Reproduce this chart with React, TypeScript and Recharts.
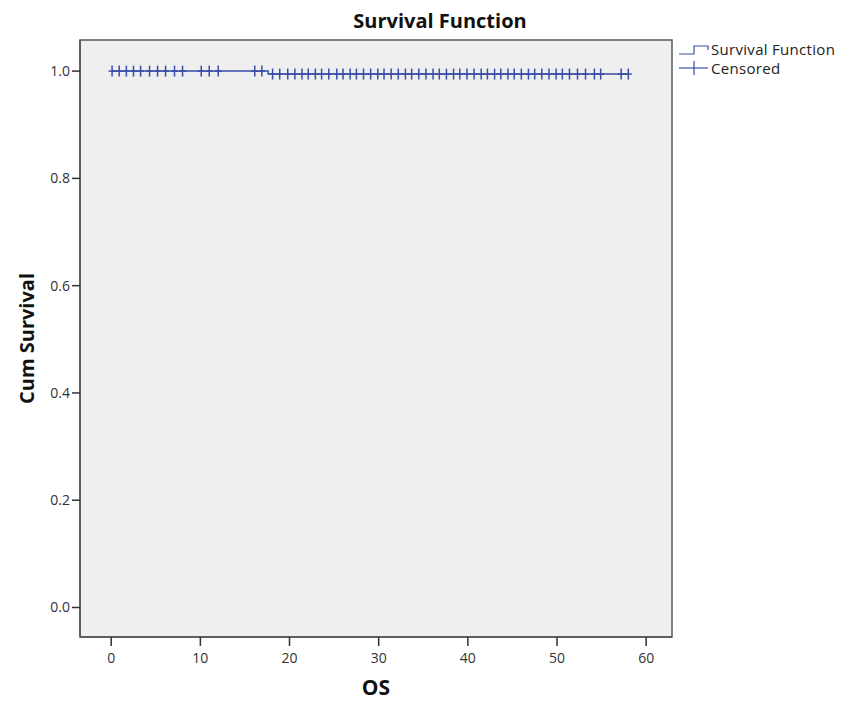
import React from 'react';
import {
  ComposedChart,
  Line,
  Scatter,
  XAxis,
  YAxis,
  CartesianGrid,
  ReferenceArea,
  Label,
} from 'recharts';

// Survival step curve (time, cumulative survival)
const survTimes = [0, 17.6, 58.0];
const survValues = [1.0, 0.9945, 0.9945];

// Censored observation times
const censoredTimes = [
  0.1, 0.9, 1.7, 2.5, 3.3, 4.3, 5.2, 6.1, 7.1, 8.0,
  10.1, 11.0, 12.0,
  16.1, 16.9,
  18.1, 18.9, 19.8, 20.6, 21.4, 22.1, 22.9, 23.6, 24.4, 25.3, 26.0, 26.8, 27.5,
  28.3, 29.1, 29.9, 30.6, 31.4, 32.2, 33.0, 33.7, 34.5, 35.3, 36.1, 36.8, 37.6,
  38.4, 39.1, 39.9, 40.7, 41.5, 42.2, 43.0, 43.7, 44.5, 45.2, 46.0, 46.8, 47.5,
  48.3, 49.1, 49.9, 50.6, 51.4, 52.3, 53.2, 54.2, 54.9, 57.2, 58.0,
];

const xTicks = [0, 10, 20, 30, 40, 50, 60];
const yTicks = [0, 0.2, 0.4, 0.6, 0.8, 1.0];

const X_DOMAIN: [number, number] = [-3.5, 62.9];
const Y_DOMAIN: [number, number] = [-0.055, 1.058];

const BLUE = '#3a4ea6';
const FONT = '"Open Sans", "Liberation Sans", sans-serif';

const survData = survTimes.map((t, i) => ({ t, s: survValues[i] }));

const survivalAt = (t: number) => {
  let v = survValues[0];
  for (let i = 0; i < survTimes.length; i++) {
    if (t >= survTimes[i]) v = survValues[i];
  }
  return v;
};

const censData = censoredTimes.map((t) => ({ t, s: survivalAt(t) }));

const Cross = (props: any) => {
  const { cx, cy } = props;
  if (cx == null || cy == null) return null;
  return (
    <g>
      <line x1={cx} x2={cx} y1={cy - 5.5} y2={cy + 5.5} stroke={BLUE} strokeWidth={1.5} />
      <line x1={cx - 3.5} x2={cx + 3.5} y1={cy} y2={cy} stroke={BLUE} strokeWidth={1.5} />
    </g>
  );
};

export default function App() {
  return (
    <div style={{ position: 'absolute', left: 0, top: 0, width: 858, height: 701, background: '#fff' }}>
      <ComposedChart
        width={858}
        height={701}
        margin={{ top: 40, right: 186, bottom: 0, left: 20 }}
      >
        <CartesianGrid fill="#efefef" horizontal={false} vertical={false} />
        <XAxis
          dataKey="t"
          type="number"
          domain={X_DOMAIN}
          ticks={xTicks}
          allowDataOverflow
          height={64}
          tickSize={9}
          tickMargin={7}
          tickLine={{ stroke: '#333', strokeWidth: 1.5 }}
          axisLine={{ stroke: '#555', strokeWidth: 1.5 }}
          tick={{ fill: '#333', fontSize: 14, fontFamily: FONT }}
        >
          <Label
            value="OS"
            position="insideBottom"
            offset={6}
            style={{ fontSize: 21, fontWeight: 700, fill: '#111', fontFamily: FONT }}
          />
        </XAxis>
        <YAxis
          dataKey="s"
          type="number"
          domain={Y_DOMAIN}
          ticks={yTicks}
          allowDataOverflow
          width={60}
          tickSize={8}
          tickFormatter={(v: number) => v.toFixed(1)}
          tickLine={{ stroke: '#333', strokeWidth: 1.5 }}
          axisLine={{ stroke: '#555', strokeWidth: 1.5 }}
          tick={{ fill: '#333', fontSize: 14, fontFamily: FONT }}
        >
          <Label
            value="Cum Survival"
            angle={-90}
            position="insideLeft"
            offset={7}
            style={{ fontSize: 20, fontWeight: 700, fill: '#111', fontFamily: FONT, textAnchor: 'middle' }}
          />
        </YAxis>
        <ReferenceArea
          x1={X_DOMAIN[0]}
          x2={X_DOMAIN[1]}
          y1={Y_DOMAIN[0]}
          y2={Y_DOMAIN[1]}
          fill="none"
          fillOpacity={0}
          stroke="#5a5a5a"
          strokeWidth={1.5}
          ifOverflow="visible"
        />
        <Line
          data={survData}
          dataKey="s"
          type="stepAfter"
          stroke={BLUE}
          strokeWidth={1.5}
          dot={false}
          activeDot={false}
          isAnimationActive={false}
        />
        <Scatter data={censData} dataKey="s" shape={<Cross />} isAnimationActive={false} />
      </ComposedChart>
      <svg
        width={858}
        height={701}
        style={{ position: 'absolute', left: 0, top: 0, pointerEvents: 'none' }}
      >
        <text x={440} y={28} textAnchor="middle" fontFamily={FONT} fontWeight={700} fontSize={20} fill="#111">
          Survival Function
        </text>
        <g>
          <polyline
            points="679,54 694,54 694,46 708,46 708,50"
            fill="none"
            stroke={BLUE}
            strokeWidth={1.2}
          />
          <text x={711} y={55} fontFamily={FONT} fontSize={15} letterSpacing={0.3} fill="#222">
            Survival Function
          </text>
          <line x1={679} x2={708} y1={68} y2={68} stroke={BLUE} strokeWidth={1.2} />
          <line x1={694} x2={694} y1={61} y2={75} stroke={BLUE} strokeWidth={1.2} />
          <text x={711} y={74} fontFamily={FONT} fontSize={15} letterSpacing={0.3} fill="#222">
            Censored
          </text>
        </g>
      </svg>
    </div>
  );
}
